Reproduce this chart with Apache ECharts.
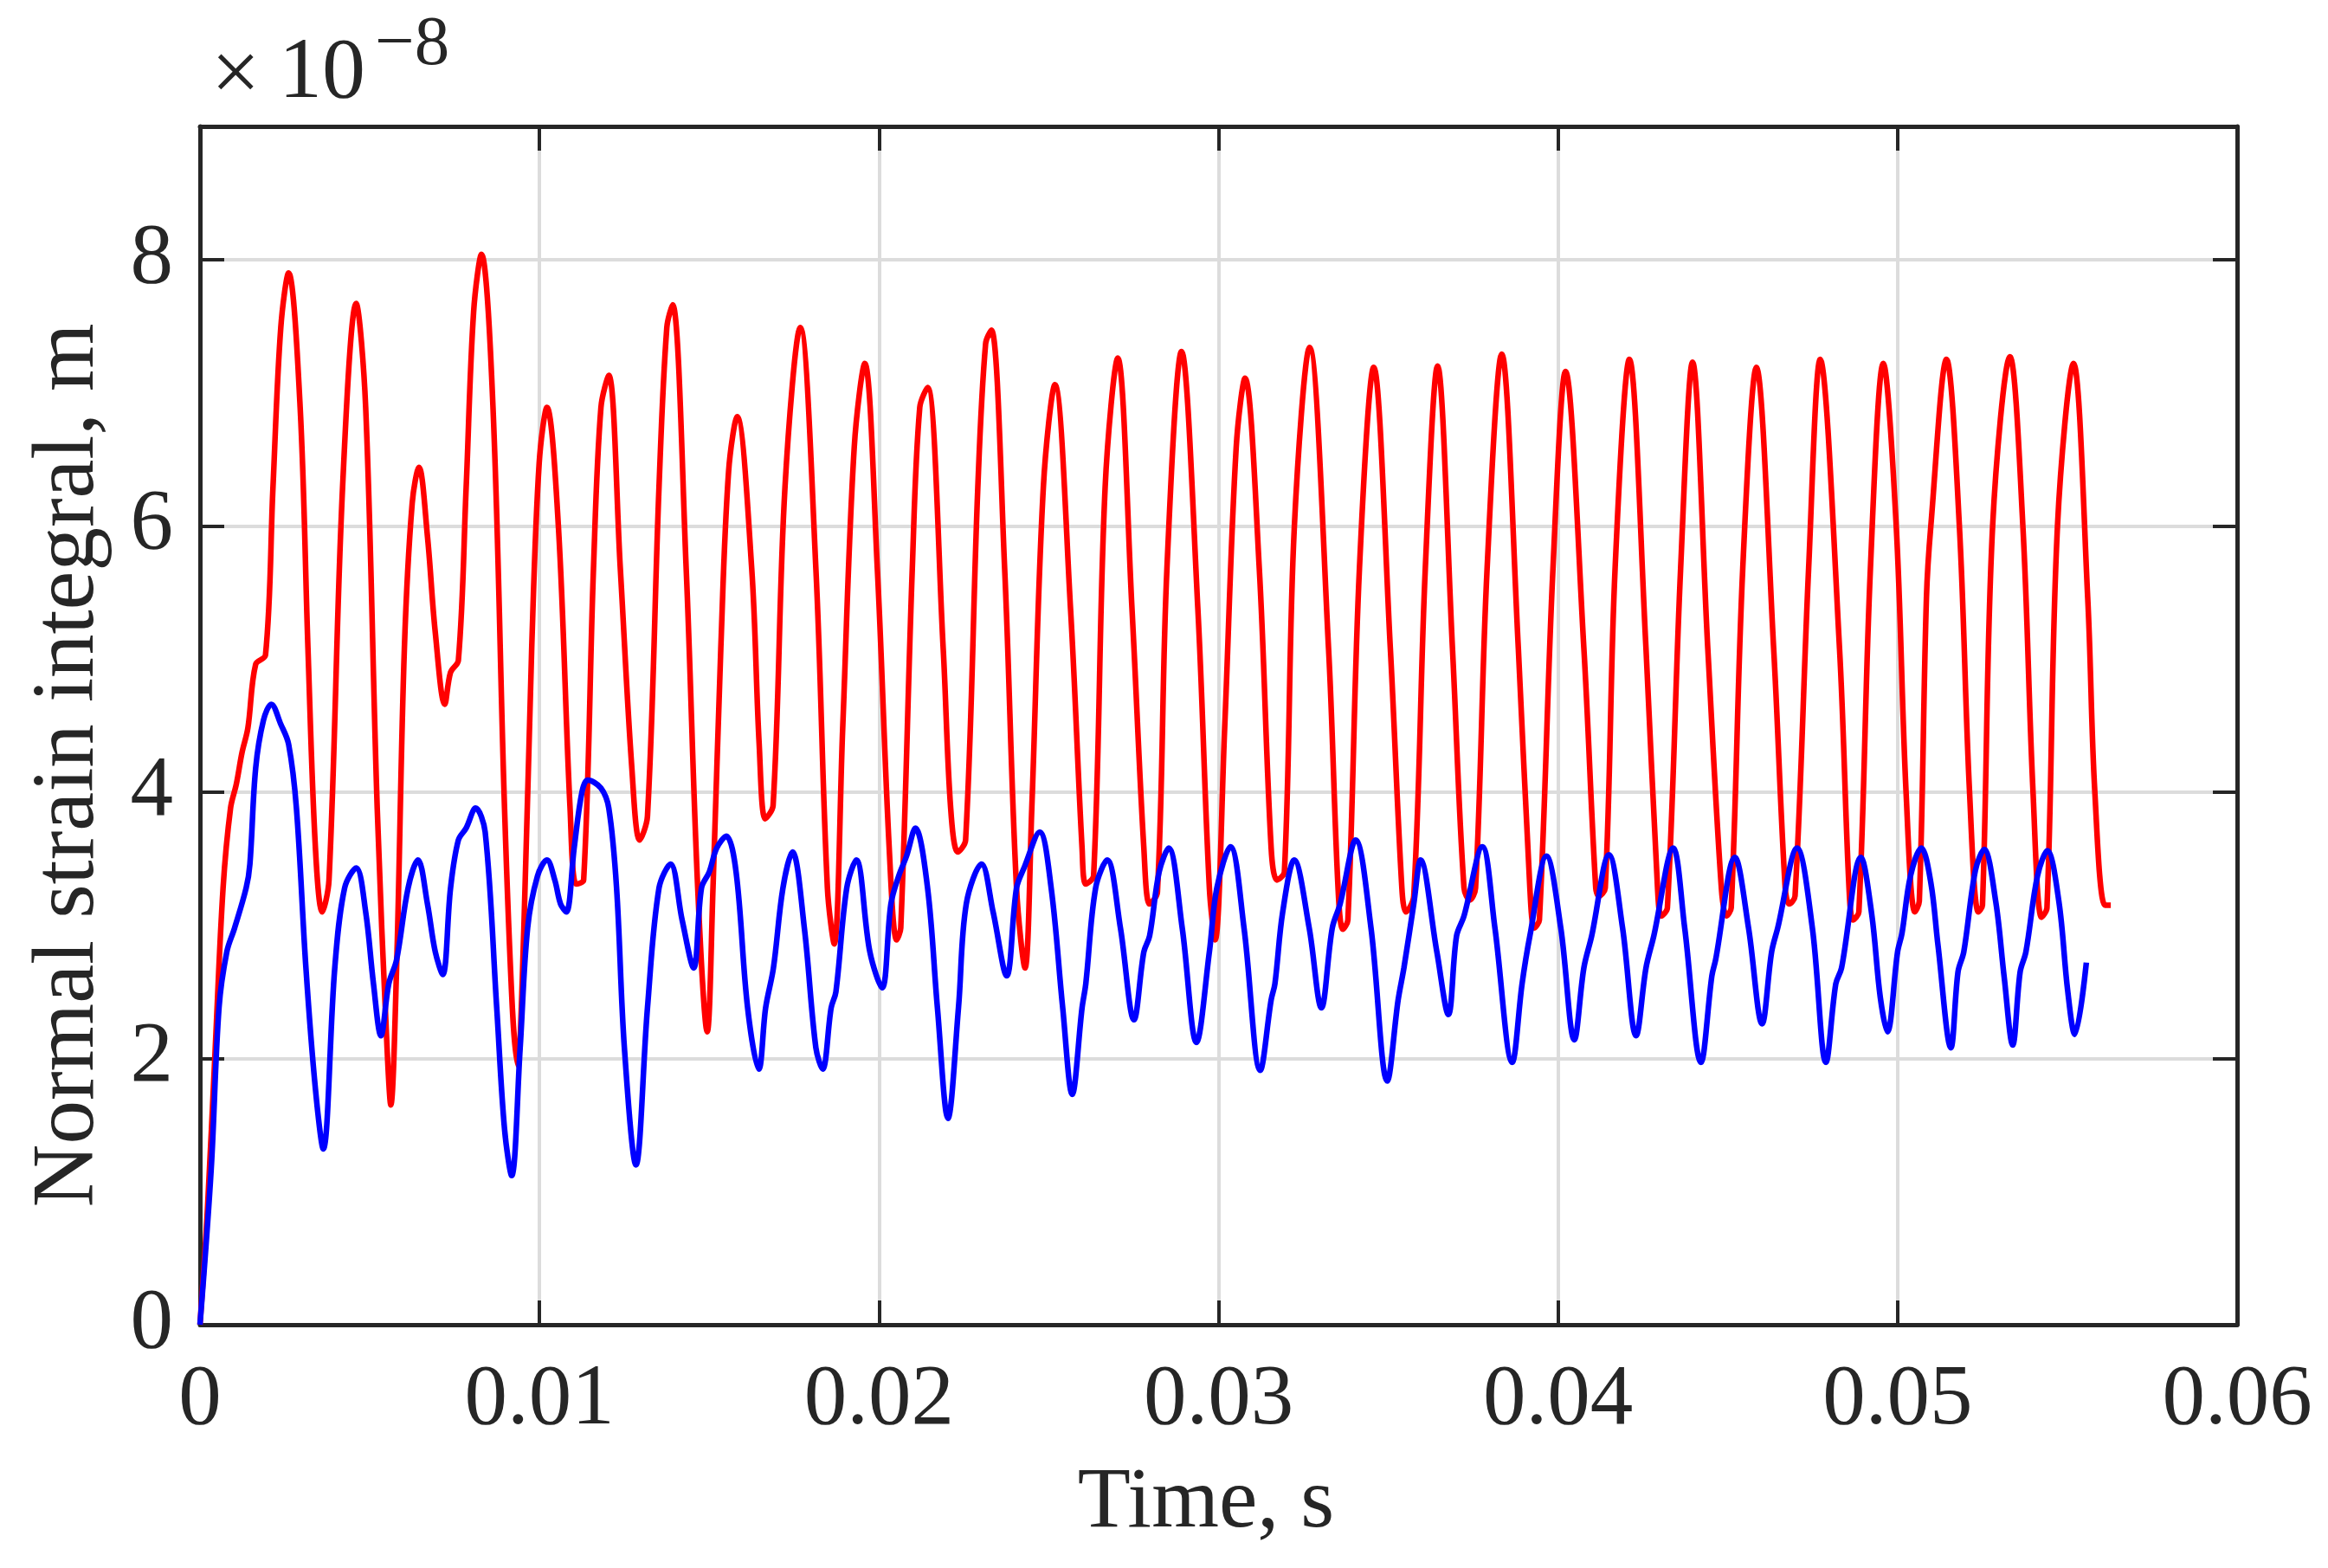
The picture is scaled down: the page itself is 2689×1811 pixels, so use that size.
<!DOCTYPE html>
<html>
<head>
<meta charset="utf-8">
<script src="https://cdn.jsdelivr.net/npm/echarts@6/dist/echarts.min.js"></script>
<style>
html,body{margin:0;padding:0;background:#fff;}
#chart{width:2689px;height:1811px;}
</style>
</head>
<body>
<div id="chart"></div>
<script>
// Time (s) and normal strain integral (x1e-8 m)
var redTime = [0,0.00022,0.00045,0.00068,0.0009,0.00107,0.00124,0.00141,0.00164,0.00193,0.00215,0.00238,0.00261,0.00295,0.00318,0.0034,0.0036,0.0038,0.0042,0.0046,0.00488,0.00522,0.00551,0.00562,0.00579,0.00602,0.00625,0.00645,0.0067,0.00693,0.00721,0.00738,0.00761,0.00784,0.00806,0.00829,0.00863,0.00897,0.0092,0.00935,0.00954,0.00977,0.00999,0.01022,0.01056,0.0109,0.01108,0.0113,0.01159,0.01181,0.01204,0.01238,0.01272,0.01295,0.01318,0.01352,0.01375,0.01392,0.01432,0.01466,0.01494,0.01511,0.01534,0.01557,0.01582,0.01625,0.01647,0.01665,0.01688,0.01723,0.01768,0.01814,0.01848,0.01868,0.01893,0.01927,0.01958,0.01995,0.0203,0.02052,0.02064,0.02098,0.0212,0.02143,0.02189,0.02211,0.02232,0.02255,0.02291,0.02314,0.02331,0.0237,0.02405,0.0243,0.0245,0.02484,0.02518,0.02564,0.02598,0.02609,0.02632,0.02666,0.02703,0.02745,0.0278,0.02797,0.0282,0.02848,0.02891,0.02939,0.02973,0.0299,0.03018,0.03052,0.03078,0.0312,0.03155,0.03172,0.03194,0.03223,0.03268,0.03324,0.03352,0.03366,0.03381,0.03415,0.03457,0.03506,0.0354,0.03552,0.03575,0.03609,0.03645,0.03689,0.03723,0.0374,0.03757,0.03791,0.03834,0.03883,0.03917,0.0393,0.03945,0.03985,0.04022,0.04076,0.04111,0.0412,0.04139,0.04168,0.0421,0.04259,0.04293,0.04304,0.04322,0.04361,0.04396,0.04441,0.04481,0.04496,0.0451,0.04544,0.04584,0.04635,0.04669,0.04681,0.04698,0.04738,0.04772,0.04829,0.04857,0.04869,0.04886,0.0492,0.04958,0.04996,0.05025,0.05051,0.05064,0.05085,0.05098,0.05144,0.05182,0.05212,0.05238,0.0525,0.0528,0.05331,0.05369,0.05399,0.05424,0.0544,0.05471,0.05518,0.0556,0.05581,0.05611,0.05628];
var redStrain = [0,0.87,2.08,3.28,3.88,4.06,4.3,4.48,4.96,5.03,6.29,7.49,7.9,6.89,5.08,3.58,3.1,3.34,6.29,7.67,6.89,3.88,2.08,1.65,2.68,5.08,6.17,6.44,5.92,5.2,4.66,4.9,4.99,6.29,7.61,8.04,6.89,3.88,2.38,1.95,2.98,5.08,6.47,6.89,5.98,3.88,3.31,3.34,5.68,6.89,7.13,5.68,4.18,3.64,3.82,6.29,7.49,7.66,5.68,3.28,2.2,3.28,5.08,6.41,6.82,5.68,4.36,3.8,3.9,6.29,7.49,5.68,3.28,2.86,4.48,6.59,7.22,5.68,3.58,2.89,2.98,5.68,6.89,7.04,5.08,3.88,3.55,3.64,6.29,7.37,7.47,5.68,3.28,2.68,3.88,6.29,7.06,5.38,3.58,3.31,3.37,6.29,7.26,5.38,3.58,3.16,3.25,5.68,7.31,5.38,3.28,2.89,4.48,6.59,7.11,5.68,3.58,3.34,3.4,5.98,7.34,5.08,3.28,2.97,3.04,5.68,7.19,5.08,3.28,3.1,3.22,5.68,7.2,5.08,3.28,3.19,3.28,5.68,7.29,5.08,3.28,2.98,3.04,5.68,7.16,5.08,3.28,3.22,3.28,5.68,7.25,5.08,3.28,3.07,3.13,5.68,7.23,5.08,3.28,3.07,3.13,5.68,7.19,5.08,3.28,3.16,3.22,5.68,7.25,5.08,3.28,3.04,3.1,5.68,7.22,6.0,4.0,3.1,3.18,5.46,6.0,7.25,6.0,4.0,3.1,3.15,6.0,7.27,6.0,4.0,3.06,3.13,6.0,7.22,5.46,4.0,3.15,3.15];

var blueTime = [0,0.00033,0.00056,0.00079,0.00102,0.00136,0.00147,0.00164,0.00187,0.0021,0.00238,0.00261,0.00284,0.00312,0.0034,0.00363,0.00397,0.00426,0.0046,0.00488,0.00511,0.00533,0.00556,0.00579,0.00613,0.00642,0.0067,0.00693,0.00715,0.00738,0.00761,0.00784,0.00812,0.0084,0.00874,0.00897,0.00918,0.00943,0.00965,0.00994,0.01022,0.01045,0.01062,0.01079,0.01102,0.01125,0.01142,0.01181,0.01204,0.01227,0.0125,0.01284,0.01318,0.01352,0.01386,0.0142,0.01454,0.01477,0.015,0.01522,0.0155,0.01579,0.01613,0.01646,0.01666,0.01689,0.01717,0.01745,0.0178,0.01814,0.01834,0.01859,0.01873,0.01905,0.01933,0.01973,0.02009,0.02035,0.02058,0.02081,0.02107,0.02143,0.02172,0.02203,0.02234,0.02257,0.02302,0.02336,0.02376,0.02405,0.02427,0.02473,0.02507,0.02541,0.02569,0.02598,0.02609,0.02638,0.02672,0.02711,0.02751,0.0278,0.02797,0.02825,0.02853,0.02893,0.02935,0.02973,0.02995,0.03035,0.03075,0.03123,0.03155,0.03166,0.03189,0.03223,0.03267,0.03303,0.03335,0.03358,0.03404,0.03449,0.03497,0.03529,0.03546,0.03575,0.03595,0.03643,0.03677,0.03701,0.03723,0.03777,0.03814,0.03865,0.03894,0.03917,0.03966,0.04008,0.04048,0.04076,0.04099,0.0415,0.0419,0.0423,0.04259,0.04282,0.04339,0.04373,0.04421,0.04453,0.04464,0.04521,0.04561,0.04601,0.04629,0.04647,0.04704,0.04749,0.04789,0.04818,0.04835,0.04892,0.04924,0.04949,0.0497,0.05,0.05013,0.05038,0.0507,0.05098,0.05119,0.05157,0.05178,0.05195,0.05229,0.05255,0.05289,0.05314,0.05339,0.05361,0.05378,0.05412,0.05441,0.05475,0.05501,0.05522,0.05556];
var blueStrain = [0,1.17,2.38,2.8,2.98,3.28,3.46,4.18,4.54,4.66,4.51,4.36,3.88,2.68,1.77,1.32,2.68,3.28,3.43,3.1,2.56,2.17,2.56,2.74,3.28,3.49,3.16,2.8,2.63,3.28,3.64,3.73,3.88,3.7,2.38,1.47,1.12,2.08,2.98,3.37,3.49,3.34,3.16,3.1,3.58,4.0,4.09,4.03,3.88,3.28,2.08,1.2,2.38,3.28,3.46,3.04,2.68,3.28,3.4,3.58,3.67,3.4,2.38,1.92,2.38,2.68,3.28,3.55,2.98,2.08,1.92,2.38,2.5,3.28,3.49,2.8,2.53,3.16,3.37,3.52,3.73,3.28,2.38,1.55,2.38,3.16,3.46,3.1,2.62,3.28,3.43,3.7,3.28,2.38,1.73,2.38,2.56,3.28,3.49,2.98,2.29,2.8,2.92,3.4,3.58,2.98,2.12,2.8,3.28,3.59,2.98,1.91,2.44,2.56,3.1,3.49,2.98,2.38,2.98,3.16,3.64,2.98,1.83,2.44,2.68,3.16,3.49,2.8,2.33,2.92,3.07,3.59,2.98,1.97,2.56,2.92,3.52,2.98,2.14,2.68,2.92,3.53,2.98,2.17,2.68,2.92,3.58,2.98,1.97,2.62,2.74,3.51,2.98,2.26,2.8,2.98,3.58,2.98,1.97,2.56,2.68,3.51,3.08,2.46,2.2,2.8,2.94,3.37,3.58,3.32,2.85,2.08,2.65,2.8,3.41,3.57,3.18,2.61,2.1,2.65,2.8,3.37,3.56,3.18,2.51,2.18,2.72];

var xTicks = [0, 0.01, 0.02, 0.03, 0.04, 0.05, 0.06];
var yTicks = [0, 2, 4, 6, 8];
var xTitle = 'Time, s';
var yTitle = 'Normal strain integral, m';
var exponentTimes = '\u00d7';
var exponentBase = '10';
var exponentPower = '\u22128';

function pairs(t, v) { return t.map(function (x, i) { return [x, v[i]]; }); }

var FONT = "'Liberation Serif', 'Times New Roman', 'DejaVu Serif', serif";
var AXIS = '#262626';
var GRID = '#dcdcdc';

var chart = echarts.init(document.getElementById('chart'), null, {renderer: 'canvas'});

function xAxisCfg(pos, main) {
  return {
    type: 'value', position: pos, min: xTicks[0], max: xTicks[xTicks.length - 1], interval: 0.01,
    axisLine: {show: true, onZero: false, lineStyle: {color: AXIS, width: 5}},
    axisTick: {show: true, inside: true, length: 28, lineStyle: {color: AXIS, width: 4}},
    axisLabel: {show: main, margin: 38, color: '#262626', fontFamily: FONT, fontSize: 99,
      formatter: function (v) { return String(Math.round(v * 100) / 100); }},
    splitLine: {show: main, lineStyle: {color: GRID, width: 4}}
  };
}
function yAxisCfg(pos, main) {
  return {
    type: 'value', position: pos, min: 0, max: 9, interval: 2,
    axisLine: {show: true, onZero: false, lineStyle: {color: AXIS, width: 5}},
    axisTick: {show: true, inside: true, length: 28, lineStyle: {color: AXIS, width: 4}},
    axisLabel: {show: main, margin: 31, color: '#262626', fontFamily: FONT, fontSize: 99,
      formatter: function (v) { return yTicks.indexOf(v) >= 0 ? String(v) : ''; }},
    splitLine: {show: main, lineStyle: {color: GRID, width: 4}}
  };
}

var option = {
  backgroundColor: '#ffffff',
  animation: false,
  grid: {left: 231, top: 146, right: 105, bottom: 281, containLabel: false},
  xAxis: [xAxisCfg('bottom', true), xAxisCfg('top', false)],
  yAxis: [yAxisCfg('left', true), yAxisCfg('right', false)],
  series: [
    {type: 'line', name: 'red', xAxisIndex: 0, yAxisIndex: 0, data: pairs(redTime, redStrain),
     showSymbol: false, smooth: 0.35, lineStyle: {color: '#ff0000', width: 6.5}, z: 3},
    {type: 'line', name: 'blue', xAxisIndex: 0, yAxisIndex: 0, data: pairs(blueTime, blueStrain),
     showSymbol: false, smooth: 0.35, lineStyle: {color: '#0000ff', width: 6.5}, z: 4}
  ],
  graphic: [
    {type: 'text', x: 1393, y: 1737, style: {text: xTitle, font: '100px ' + FONT, fill: '#262626', align: 'center', verticalAlign: 'middle'}},
    {type: 'text', x: 80, y: 884, rotation: Math.PI / 2, style: {text: yTitle, font: '101px ' + FONT, fill: '#262626', align: 'center', verticalAlign: 'middle'}},
    {type: 'text', x: 244, y: 90, style: {text: exponentTimes, font: '100px ' + FONT, fill: '#262626', align: 'left', verticalAlign: 'middle'}},
    {type: 'text', x: 322, y: 86, style: {text: exponentBase, font: '100px ' + FONT, fill: '#262626', align: 'left', verticalAlign: 'middle'}},
    {type: 'text', x: 433, y: 53, style: {text: exponentPower, font: '81px ' + FONT, fill: '#262626', align: 'left', verticalAlign: 'middle'}}
  ]
};
chart.setOption(option);
</script>
</body>
</html>
